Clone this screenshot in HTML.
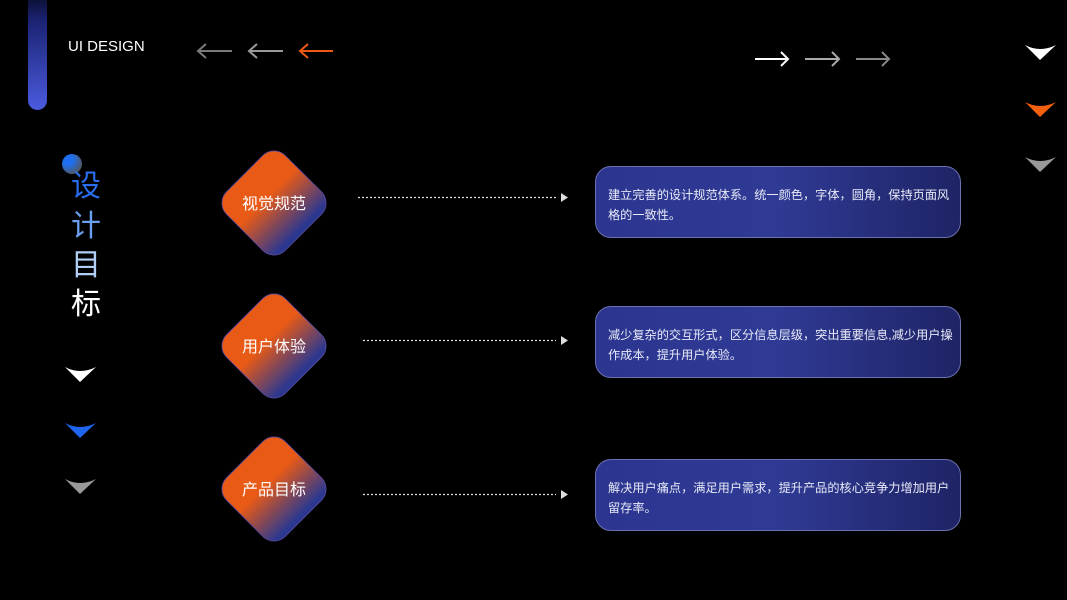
<!DOCTYPE html>
<html><head><meta charset="utf-8"><style>
html,body{margin:0;padding:0;background:#000;}
body{width:1067px;height:600px;position:relative;overflow:hidden;font-family:"Liberation Sans","Noto Sans CJK SC",sans-serif;}
.t{position:absolute;color:#fff;}
.box{position:absolute;left:595px;width:366px;height:72px;box-sizing:border-box;border:1px solid #6a70b0;border-radius:16px;background:linear-gradient(90deg,#2c3690 0%,#2f3a94 50%,#1f2466 100%);}
.box p{margin:0;position:absolute;left:12px;top:18px;width:346px;font-size:12.2px;line-height:20px;color:#e8eaf8;font-family:"Liberation Sans","Noto Sans CJK SC",sans-serif;}
.dl{position:absolute;font-size:16px;color:#fff;width:104px;text-align:center;font-family:"Liberation Sans","Noto Sans CJK SC",sans-serif;}
.big{position:absolute;left:71px;font-size:30px;font-family:"Noto Sans CJK SC",sans-serif;line-height:30px;}
</style></head><body>
<svg width="1067" height="600" style="position:absolute;left:0;top:0">
<defs>
<linearGradient id="bar" x1="0" y1="0" x2="0" y2="1"><stop offset="0" stop-color="#000"/><stop offset="0.3" stop-color="#1a2270"/><stop offset="1" stop-color="#4b5be0"/></linearGradient>
<radialGradient id="dot" cx="0.3" cy="0.3" r="0.8"><stop offset="0.3" stop-color="#1e6ff0"/><stop offset="1" stop-color="#555"/></radialGradient>
<linearGradient id="dg" x1="0" y1="0" x2="1" y2="0"><stop offset="0.4" stop-color="#e85a16"/><stop offset="0.95" stop-color="#2c3890"/></linearGradient>
</defs>
<rect x="28" y="-20" width="19" height="130" rx="9.5" fill="url(#bar)"/>
<circle cx="72" cy="164" r="10" fill="url(#dot)"/>
<g fill="none" stroke-width="2">
<path d="M232 51H198M206 44L198 51L206 58" stroke="#7a7a7a"/>
<path d="M283 51H249M257 44L249 51L257 58" stroke="#9a9a9a"/>
<path d="M333 51H300M308 44L300 51L308 58" stroke="#ee5a16"/>
<path d="M755 59H788M781 52L788 59L781 66" stroke="#fff"/>
<path d="M805 59H839M832 52L839 59L832 66" stroke="#aaa"/>
<path d="M856 59H889M882 52L889 59L882 66" stroke="#888"/>
</g>
<g>
<path d="M1025 45Q1040 53 1056 45L1040 60Z" fill="#fff"/>
<path d="M1025 102Q1040 110 1056 102L1040 117Z" fill="#f5600f"/>
<path d="M1025 157Q1040 165 1056 157L1040 172Z" fill="#999"/>
<path d="M65 367Q80 375 96 367L80 382Z" fill="#fff"/>
<path d="M65 423Q80 431 96 423L80 438Z" fill="#1e66f0"/>
<path d="M65 479Q80 487 96 479L80 494Z" fill="#999"/>
</g>
<rect x="232.5" y="161.5" width="83" height="83" rx="16" transform="rotate(45 274 203)" fill="url(#dg)" stroke="#5a4aa0" stroke-width="0.8"/>
<rect x="232.5" y="304.5" width="83" height="83" rx="16" transform="rotate(45 274 346)" fill="url(#dg)" stroke="#5a4aa0" stroke-width="0.8"/>
<rect x="232.5" y="447.5" width="83" height="83" rx="16" transform="rotate(45 274 489)" fill="url(#dg)" stroke="#5a4aa0" stroke-width="0.8"/>
<g stroke="#ddd" stroke-width="1.2" stroke-dasharray="2 2">
<line x1="358" y1="197.5" x2="556" y2="197.5"/>
<line x1="363" y1="340.5" x2="556" y2="340.5"/>
<line x1="363" y1="494.5" x2="556" y2="494.5"/>
</g>
<g fill="#ddd">
<path d="M561 193L568 197.5L561 202Z"/>
<path d="M561 336L568 340.5L561 345Z"/>
<path d="M561 490L568 494.5L561 499Z"/>
</g>
</svg>
<div class="t" style="left:68px;top:38px;font-size:15px;">UI DESIGN</div>
<div class="big" style="top:168px;color:#2a6ef0;">设</div>
<div class="big" style="top:208px;color:#6aa0f0;">计</div>
<div class="big" style="top:247px;color:#b0cdf5;">目</div>
<div class="big" style="top:286px;color:#fff;">标</div>
<div class="dl" style="left:222px;top:190px;">视觉规范</div>
<div class="dl" style="left:222px;top:333px;">用户体验</div>
<div class="dl" style="left:222px;top:476px;">产品目标</div>
<div class="box" style="top:166px;"><p>建立完善的设计规范体系。统一颜色，字体，圆角，保持页面风格的一致性。</p></div>
<div class="box" style="top:306px;"><p>减少复杂的交互形式，区分信息层级，突出重要信息,减少用户操作成本，提升用户体验。</p></div>
<div class="box" style="top:459px;"><p>解决用户痛点，满足用户需求，提升产品的核心竞争力增加用户留存率。</p></div>
</body></html>
